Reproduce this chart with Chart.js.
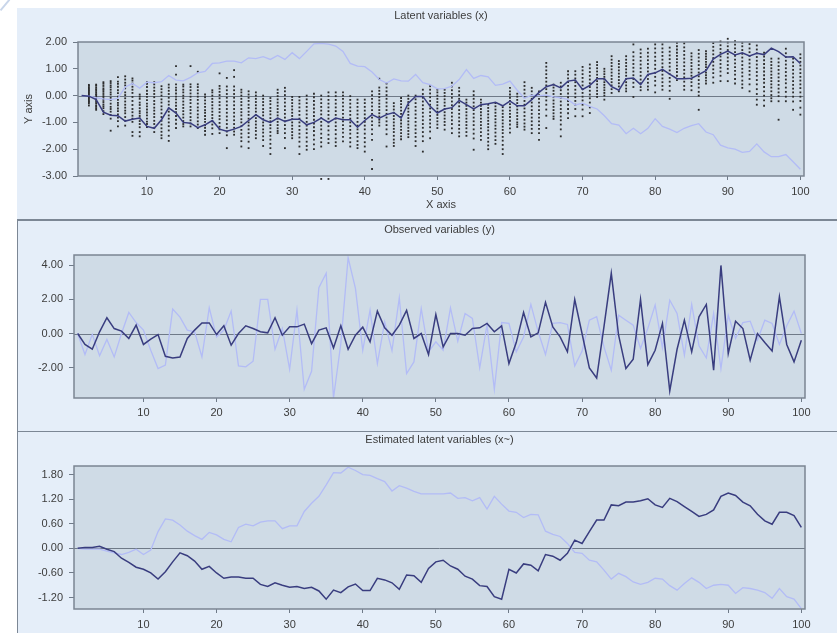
<!DOCTYPE html>
<html>
<head>
<meta charset="utf-8">
<script src="https://cdn.jsdelivr.net/npm/chart.js@4.4.1/dist/chart.umd.min.js"></script>
<style>
  html, body { margin: 0; padding: 0; background: #ffffff; }
  body { width: 837px; height: 633px; position: relative; overflow: hidden; }
  .panel { position: absolute; left: 17px; width: 820px; background: #e5eef9; box-sizing: border-box; }
  #bg1 { top: 8px; height: 211px; }
  #bg2 { top: 219px; height: 212px; border-top: 2px solid #7c8795; border-left: 1px solid #7c8795; }
  #bg3 { top: 431px; height: 202px; border-top: 1px solid #7c8795; border-left: 1px solid #7c8795; }
  #corner { position: absolute; left: -2px; top: 4px; width: 14px; height: 2px; background: #c9d6ea;
            transform: rotate(-50deg); }
  canvas { position: absolute; }
  #c1 { left: 17px; top: 8px; }
  #c2 { left: 17px; top: 221px; }
  #c3 { left: 17px; top: 432px; }
</style>
</head>
<body>
<div id="corner"></div>
<div class="panel" id="bg1"></div>
<div class="panel" id="bg2"></div>
<div class="panel" id="bg3"></div>
<canvas id="c1" width="820" height="211"></canvas>
<canvas id="c2" width="820" height="209"></canvas>
<canvas id="c3" width="820" height="201"></canvas>
<script>
// ---- time steps 1..100 on every panel ----
const X_MIN = 0.5, X_MAX = 100.5;
const xTicks = [10, 20, 30, 40, 50, 60, 70, 80, 90, 100];

// ---- panel 1: latent variables (x) ----
const latentTicks = [2, 1, 0, -1, -2, -3];
const latentDark = [
  0, -0.02, -0.15, -0.62, -0.73, -0.75, -0.95, -0.88, -0.84, -1.15,
  -1.22, -0.9, -0.46, -0.65, -1.0, -1.03, -1.2, -1.09, -0.93, -1.25,
  -1.33, -1.25, -1.15, -0.93, -0.71, -0.9, -1.0, -0.84, -0.96, -0.88,
  -0.88, -1.09, -1.0, -0.84, -1.0, -0.84, -0.9, -0.9, -1.18, -0.93,
  -0.71, -0.84, -0.71, -0.63, -0.84, -0.28, -0.03, -0.03, -0.4, -0.65,
  -0.5, -0.45, -0.18, -0.34, -0.5, -0.34, -0.3, -0.25, -0.38, -0.21,
  -0.38, -0.38, -0.15, 0.12, 0.33, 0.41, 0.29, 0.54, 0.58, 0.23,
  0.38, 0.63, 0.63, 0.33, 0.2, 0.63, 0.66, 0.41, 0.79, 0.85,
  0.98, 0.8, 0.63, 0.63, 0.65, 0.78, 0.93, 1.36, 1.54, 1.66,
  1.52, 1.6, 1.48, 1.58, 1.53, 1.77, 1.64, 1.44, 1.45, 1.2
];
const latentLight = [
  0, -0.02, -0.08, -0.12, -0.15, -0.1, 0.32, 0.45, 0.28, 0.5,
  0.48, 0.52, 0.75, 0.58, 0.55, 0.68, 0.85, 0.9, 1.2, 1.22,
  1.29, 1.29, 1.22, 1.41, 1.38, 1.45, 1.35, 1.5, 1.35, 1.6,
  1.38, 1.65, 1.93, 1.95, 1.92, 1.85, 1.65, 1.2, 1.1, 1.08,
  0.88, 0.6, 0.47, 0.62, 0.55, 0.54, 0.79, 0.48, 0.41, 0.25,
  0.26, 0.35, 0.6, 0.97, 0.64, 0.75, 0.7, 0.38, 0.43, 0.54,
  0.2, -0.1, 0.02, 0.0, 0.02, -0.05, -0.08, -0.15, -0.35, -0.28,
  -0.4, -0.5, -0.75, -1.05, -1.1, -1.42, -1.22, -1.42, -1.22, -0.86,
  -1.15, -1.25, -1.38, -1.22, -1.12, -1.05, -1.36, -1.46, -1.85, -1.95,
  -2.0, -2.12, -2.08, -1.8, -2.1, -2.28, -2.28, -2.2, -2.47, -2.75
];
// particle samples, one column per step starting at step 2
const FIRST_SAMPLE_STEP = 2;
const sampleColumns = [
  [0.40, 0.36, 0.3, 0.26, 0.21, 0.17, 0.12, 0.08, 0.03, -0.01, -0.06, -0.1, -0.15, -0.2, -0.24, -0.29, -0.37],
  [0.41, 0.37, 0.3, 0.24, 0.19, 0.13, 0.06, 0.02, -0.05, -0.1, -0.16, -0.22, -0.28, -0.36, -0.41, -0.47, -0.53],
  [0.5, 0.44, 0.36, 0.27, 0.21, 0.14, 0.06, -0.02, -0.09, -0.16, -0.24, -0.33, -0.4, -0.47, -0.58, -0.69],
  [0.54, 0.47, 0.38, 0.31, 0.22, 0.12, 0.04, -0.08, -0.17, -0.3, -0.42, -0.5, -0.6, -0.72, -0.86, -1.31],
  [0.69, 0.52, 0.44, 0.33, 0.2, 0.09, -0.04, -0.16, -0.27, -0.36, -0.48, -0.58, -0.7, -0.82, -0.95, -1.15],
  [0.72, 0.6, 0.48, 0.38, 0.27, 0.12, 0.02, -0.1, -0.22, -0.34, -0.45, -0.56, -0.66, -0.8, -0.94, -1.12],
  [0.64, 0.56, 0.45, 0.33, 0.22, 0.1, -0.05, -0.2, -0.35, -0.5, -0.62, -0.75, -0.86, -0.98, -1.36, -1.5],
  [0.04, -0.04, -0.12, -0.26, -0.35, -0.47, -0.58, -0.66, -0.76, -0.85, -0.95, -1.06, -1.18, -1.36, -1.52],
  [0.5, 0.44, 0.32, 0.18, 0.06, -0.05, -0.17, -0.3, -0.4, -0.52, -0.63, -0.74, -0.86, -0.97, -1.06, -1.17],
  [0.5, 0.42, 0.3, 0.18, 0.06, -0.06, -0.2, -0.32, -0.45, -0.56, -0.68, -0.8, -0.94, -1.06, -1.2, -1.36],
  [0.35, 0.24, 0.12, 0.0, -0.14, -0.26, -0.4, -0.52, -0.66, -0.8, -0.94, -1.08, -1.22, -1.35, -1.48, -1.59],
  [0.41, 0.3, 0.18, 0.06, -0.08, -0.22, -0.34, -0.48, -0.6, -0.74, -0.86, -1.0, -1.14, -1.3, -1.5, -1.69],
  [1.1, 0.78, 0.42, 0.3, 0.2, 0.08, -0.04, -0.14, -0.26, -0.38, -0.5, -0.62, -0.76, -0.9, -1.05, -1.21],
  [0.41, 0.34, 0.22, 0.12, 0.0, -0.1, -0.22, -0.34, -0.46, -0.58, -0.7, -0.82, -0.95, -1.06, -1.15],
  [1.1, 0.42, 0.32, 0.2, 0.08, -0.04, -0.16, -0.28, -0.42, -0.54, -0.66, -0.8, -0.92, -1.04, -1.15],
  [0.89, 0.42, 0.32, 0.2, 0.08, -0.04, -0.16, -0.3, -0.44, -0.56, -0.7, -0.82, -0.96, -1.08, -1.21],
  [0.04, -0.06, -0.18, -0.3, -0.42, -0.54, -0.64, -0.76, -0.88, -0.98, -1.1, -1.2, -1.32, -1.46],
  [0.2, 0.12, 0.0, -0.12, -0.24, -0.36, -0.48, -0.6, -0.72, -0.84, -0.96, -1.08, -1.22, -1.43],
  [0.83, 0.36, 0.26, 0.14, 0.02, -0.1, -0.24, -0.36, -0.5, -0.62, -0.76, -0.88, -1.02, -1.16, -1.26, -1.4],
  [0.66, 0.34, 0.2, 0.06, -0.08, -0.22, -0.36, -0.5, -0.64, -0.78, -0.92, -1.06, -1.2, -1.34, -1.48, -1.96],
  [0.95, 0.7, 0.34, 0.2, 0.06, -0.08, -0.22, -0.36, -0.5, -0.64, -0.78, -0.92, -1.06, -1.2, -1.34, -1.46],
  [0.22, 0.12, 0.0, -0.12, -0.24, -0.36, -0.5, -0.62, -0.74, -0.88, -1.0, -1.14, -1.28, -1.42, -1.56, -1.7, -1.9],
  [0.16, 0.04, -0.08, -0.2, -0.34, -0.46, -0.6, -0.72, -0.86, -1.0, -1.12, -1.26, -1.4, -1.55, -1.72, -1.96],
  [0.12, 0.0, -0.12, -0.24, -0.36, -0.48, -0.6, -0.72, -0.84, -0.96, -1.08, -1.2, -1.32, -1.46, -1.59],
  [0.0, -0.12, -0.24, -0.36, -0.5, -0.62, -0.74, -0.88, -1.0, -1.12, -1.26, -1.38, -1.52, -1.66, -1.88],
  [-0.09, -0.2, -0.32, -0.46, -0.58, -0.7, -0.84, -0.96, -1.1, -1.22, -1.36, -1.5, -1.64, -1.8, -1.96, -2.18],
  [0.22, 0.1, -0.02, -0.14, -0.26, -0.38, -0.5, -0.62, -0.74, -0.86, -0.98, -1.1, -1.22, -1.32, -1.4],
  [0.29, 0.16, 0.02, -0.12, -0.26, -0.4, -0.54, -0.68, -0.82, -0.96, -1.1, -1.24, -1.4, -1.58, -1.96],
  [-0.05, -0.16, -0.28, -0.4, -0.52, -0.64, -0.76, -0.88, -1.0, -1.12, -1.24, -1.36, -1.48, -1.59],
  [-0.05, -0.18, -0.3, -0.44, -0.58, -0.72, -0.86, -1.0, -1.14, -1.28, -1.42, -1.56, -1.72, -1.9, -2.18],
  [0.0, -0.14, -0.28, -0.42, -0.56, -0.7, -0.84, -0.98, -1.12, -1.26, -1.4, -1.56, -1.72, -1.88, -2.02],
  [0.07, -0.06, -0.2, -0.34, -0.48, -0.62, -0.76, -0.9, -1.04, -1.18, -1.32, -1.48, -1.64, -1.82, -2.0],
  [0.0, -0.14, -0.28, -0.42, -0.56, -0.7, -0.84, -0.98, -1.12, -1.26, -1.42, -1.58, -1.74, -1.9, -3.11],
  [0.12, -0.02, -0.16, -0.3, -0.44, -0.58, -0.72, -0.86, -1.0, -1.14, -1.3, -1.46, -1.62, -1.77, -3.11],
  [0.12, -0.02, -0.16, -0.3, -0.44, -0.58, -0.72, -0.86, -1.0, -1.14, -1.28, -1.44, -1.6, -1.74, -1.88],
  [0.12, 0.0, -0.12, -0.26, -0.4, -0.54, -0.68, -0.82, -0.96, -1.1, -1.24, -1.38, -1.54, -1.71],
  [-0.02, -0.16, -0.3, -0.44, -0.58, -0.72, -0.86, -1.0, -1.14, -1.28, -1.42, -1.58, -1.74, -1.9],
  [-0.15, -0.28, -0.42, -0.56, -0.7, -0.84, -0.98, -1.12, -1.26, -1.4, -1.54, -1.7, -1.84, -1.96],
  [-0.15, -0.28, -0.42, -0.56, -0.7, -0.84, -0.98, -1.12, -1.26, -1.42, -1.58, -1.74, -1.9, -2.09],
  [0.16, 0.02, -0.12, -0.26, -0.4, -0.54, -0.68, -0.82, -0.96, -1.1, -1.26, -1.44, -1.65, -2.4, -2.74],
  [0.63, 0.3, 0.18, 0.06, -0.06, -0.18, -0.3, -0.42, -0.54, -0.66, -0.78, -0.9, -1.0, -1.12],
  [0.45, 0.3, 0.16, 0.02, -0.12, -0.26, -0.4, -0.54, -0.68, -0.82, -0.96, -1.1, -1.26, -1.44, -1.9],
  [-0.28, -0.4, -0.52, -0.64, -0.76, -0.88, -1.0, -1.12, -1.24, -1.36, -1.5, -1.64, -1.76, -1.88],
  [-0.09, -0.2, -0.32, -0.44, -0.56, -0.68, -0.8, -0.92, -1.04, -1.16, -1.28, -1.4, -1.52, -1.63],
  [0.0, -0.12, -0.24, -0.36, -0.48, -0.6, -0.72, -0.84, -0.96, -1.08, -1.2, -1.32, -1.44, -1.55],
  [0.0, -0.14, -0.28, -0.42, -0.56, -0.7, -0.84, -0.98, -1.12, -1.26, -1.4, -1.54, -1.7, -1.88],
  [0.22, 0.06, -0.08, -0.22, -0.36, -0.5, -0.64, -0.78, -0.92, -1.06, -1.2, -1.36, -1.52, -1.7, -2.09],
  [0.35, 0.22, 0.08, -0.06, -0.2, -0.34, -0.48, -0.62, -0.76, -0.9, -1.04, -1.18, -1.34, -1.59],
  [0.22, 0.12, 0.0, -0.12, -0.24, -0.36, -0.48, -0.6, -0.72, -0.84, -0.96, -1.08, -1.21],
  [0.22, 0.1, -0.02, -0.14, -0.26, -0.38, -0.5, -0.62, -0.74, -0.86, -0.98, -1.1, -1.27],
  [0.48, 0.34, 0.2, 0.06, -0.08, -0.22, -0.36, -0.5, -0.64, -0.78, -0.92, -1.06, -1.22, -1.4],
  [0.29, 0.16, 0.02, -0.12, -0.26, -0.4, -0.54, -0.68, -0.82, -0.96, -1.1, -1.24, -1.38, -1.52],
  [-0.15, -0.26, -0.38, -0.5, -0.62, -0.74, -0.86, -0.98, -1.1, -1.22, -1.36, -1.5],
  [0.16, 0.02, -0.12, -0.26, -0.4, -0.54, -0.68, -0.82, -0.96, -1.1, -1.26, -1.42, -1.6, -2.02],
  [-0.15, -0.26, -0.38, -0.5, -0.62, -0.74, -0.86, -0.98, -1.1, -1.22, -1.36, -1.5, -1.65],
  [-0.34, -0.46, -0.58, -0.7, -0.82, -0.94, -1.06, -1.18, -1.3, -1.44, -1.58, -1.72, -1.86, -2.0],
  [-0.28, -0.4, -0.52, -0.64, -0.76, -0.88, -1.0, -1.12, -1.24, -1.38, -1.52, -1.66, -1.8],
  [-0.43, -0.56, -0.68, -0.8, -0.92, -1.04, -1.16, -1.28, -1.4, -1.54, -1.68, -1.84, -2.0, -2.18],
  [0.29, 0.16, 0.04, -0.08, -0.2, -0.32, -0.44, -0.56, -0.68, -0.8, -0.94, -1.08, -1.22, -1.38],
  [0.07, -0.04, -0.16, -0.28, -0.4, -0.52, -0.64, -0.76, -0.88, -1.0, -1.08, -1.17],
  [0.5, 0.36, 0.22, 0.08, -0.06, -0.2, -0.34, -0.48, -0.62, -0.76, -0.9, -1.04, -1.16, -1.27],
  [0.29, 0.16, 0.02, -0.12, -0.26, -0.4, -0.54, -0.68, -0.82, -0.96, -1.1, -1.24, -1.4],
  [0.16, 0.02, -0.12, -0.26, -0.4, -0.54, -0.68, -0.82, -0.96, -1.1, -1.24, -1.4, -1.65],
  [1.22, 1.08, 0.94, 0.8, 0.66, 0.52, 0.38, 0.24, 0.1, -0.04, -0.18, -0.34, -0.52, -0.75, -1.21],
  [0.41, 0.3, 0.18, 0.06, -0.06, -0.18, -0.3, -0.42, -0.54, -0.66, -0.78, -0.87],
  [0.48, 0.34, 0.2, 0.06, -0.08, -0.22, -0.36, -0.5, -0.64, -0.78, -0.92, -1.08, -1.26, -1.52],
  [0.91, 0.78, 0.64, 0.5, 0.36, 0.22, 0.08, -0.06, -0.2, -0.34, -0.5, -0.66, -0.84],
  [0.91, 0.78, 0.64, 0.5, 0.36, 0.22, 0.08, -0.06, -0.2, -0.34, -0.5, -0.77],
  [1.07, 0.94, 0.8, 0.66, 0.52, 0.38, 0.24, 0.1, -0.04, -0.18, -0.34, -0.52, -0.77],
  [1.16, 1.02, 0.88, 0.74, 0.6, 0.46, 0.32, 0.18, 0.04, -0.1, -0.26, -0.44, -0.65],
  [1.25, 1.14, 1.02, 0.9, 0.78, 0.66, 0.54, 0.42, 0.3, 0.18, 0.06, -0.05],
  [1.0, 0.9, 0.8, 0.7, 0.6, 0.5, 0.4, 0.3, 0.2, 0.1, 0.0, -0.15],
  [1.47, 1.34, 1.22, 1.1, 0.98, 0.86, 0.74, 0.62, 0.5, 0.38, 0.24, 0.1],
  [1.29, 1.18, 1.06, 0.94, 0.82, 0.7, 0.58, 0.46, 0.34, 0.16],
  [1.47, 1.34, 1.22, 1.1, 0.98, 0.86, 0.74, 0.62, 0.5, 0.38, 0.26, 0.16],
  [1.91, 1.62, 1.46, 1.32, 1.18, 1.04, 0.9, 0.76, 0.62, 0.48, 0.32, -0.05],
  [1.72, 1.58, 1.44, 1.3, 1.16, 1.02, 0.88, 0.74, 0.6, 0.46, 0.32, 0.2],
  [1.75, 1.6, 1.46, 1.32, 1.18, 1.04, 0.9, 0.76, 0.62, 0.48, 0.34, 0.22],
  [1.91, 1.76, 1.6, 1.45, 1.3, 1.15, 1.0, 0.85, 0.7, 0.55, 0.38, 0.12],
  [1.91, 1.76, 1.62, 1.48, 1.34, 1.2, 1.06, 0.92, 0.78, 0.64, 0.5, 0.36, 0.22],
  [1.79, 1.64, 1.5, 1.36, 1.22, 1.08, 0.94, 0.8, 0.66, 0.52, 0.36, 0.18, -0.12],
  [1.97, 1.84, 1.72, 1.6, 1.48, 1.36, 1.24, 1.12, 1.0, 0.88, 0.74, 0.58],
  [1.95, 1.8, 1.66, 1.52, 1.38, 1.24, 1.1, 0.96, 0.82, 0.68, 0.52, 0.36, 0.22],
  [1.58, 1.46, 1.34, 1.22, 1.1, 0.98, 0.86, 0.74, 0.62, 0.5, 0.36, 0.2],
  [1.7, 1.56, 1.42, 1.28, 1.14, 1.0, 0.86, 0.72, 0.58, 0.44, 0.3, 0.14, 0.0, -0.53],
  [1.66, 1.56, 1.46, 1.36, 1.26, 1.16, 1.06, 0.96, 0.86, 0.76, 0.66, 0.56, 0.45],
  [2.33, 2.2, 1.96, 1.82, 1.68, 1.54, 1.4, 1.26, 1.12, 0.98, 0.84, 0.68, 0.48],
  [2.38, 2.2, 2.02, 1.88, 1.74, 1.6, 1.46, 1.32, 1.18, 1.04, 0.9, 0.74, 0.54],
  [2.75, 2.3, 2.12, 1.98, 1.84, 1.7, 1.56, 1.42, 1.28, 1.14, 1.0, 0.84, 0.54],
  [2.03, 1.9, 1.76, 1.62, 1.48, 1.34, 1.2, 1.06, 0.92, 0.78, 0.62, 0.45],
  [1.97, 1.84, 1.7, 1.56, 1.42, 1.28, 1.14, 1.0, 0.86, 0.72, 0.56, 0.42, 0.29],
  [2.29, 1.92, 1.76, 1.62, 1.48, 1.34, 1.2, 1.06, 0.92, 0.78, 0.62, 0.42, 0.16],
  [1.87, 1.72, 1.58, 1.44, 1.3, 1.16, 1.02, 0.88, 0.74, 0.58, 0.42, 0.24, 0.06, -0.15, -0.34],
  [1.6, 1.46, 1.32, 1.18, 1.04, 0.9, 0.76, 0.62, 0.48, 0.32, 0.16, 0.0, -0.18, -0.38],
  [1.38, 1.26, 1.14, 1.02, 0.9, 0.78, 0.66, 0.54, 0.42, 0.3, 0.16, 0.02, -0.1, -0.21],
  [1.38, 1.24, 1.1, 0.96, 0.82, 0.68, 0.54, 0.4, 0.26, 0.12, -0.02, -0.21, -0.9],
  [1.75, 1.58, 1.44, 1.3, 1.16, 1.02, 0.88, 0.74, 0.6, 0.46, 0.3, 0.14, -0.04, -0.21],
  [1.38, 1.24, 1.1, 0.96, 0.82, 0.68, 0.54, 0.4, 0.26, 0.12, -0.04, -0.22, -0.53],
  [1.54, 1.4, 1.26, 1.12, 0.98, 0.84, 0.7, 0.56, 0.42, 0.28, 0.12, -0.04, -0.2, -0.45, -0.71]
];

// ---- panel 2: observed variables (y) ----
const observedTicks = [4, 2, 0, -2];
const observedDark = [
  0, -0.64, -0.92, 0.1, 0.92, 0.29, 0.14, -0.29, 0.49, -0.64,
  -0.33, -0.06, -1.33, -1.43, -1.37, -0.29, 0.2, 0.62, 0.62, -0.06,
  0.45, -0.68, 0.0, 0.45, 0.29, 0.1, 0.04, 0.92, -0.1, 0.39,
  0.39, 0.55, -0.59, 0.2, 0.33, -0.84, 0.45, -0.92, -0.1, 0.37,
  -0.49, 1.31, 0.33, -0.1, 0.49, 1.35, -0.29, 0.0, -1.23, 1.11,
  -0.78, 0.0, 0.0, -0.1, 0.29, 0.33, 0.59, 0.1, 0.45, -1.76,
  -0.53, 1.23, -0.2, 0.04, 1.82, 0.39, -0.2, -1.07, 1.99, 0.0,
  -2.01, -2.6, 0.4, 3.52, -0.1, -2.05, -1.5, 1.99, -1.82, -0.98,
  0.59, -3.36, -0.92, 0.78, -1.07, 0.98, 1.7, -2.15, 3.98, -1.17,
  0.72, 0.29, -1.56, 0.0, -0.53, -1.02, 2.15, -0.64, -1.66, -0.39
];
const observedLight = [
  0, -1.23, -0.05, -1.3, -0.35, -1.37, 0.0, 1.23, 0.64, 0.2,
  -0.98, -2.05, -1.85, 1.43, 0.96, 0.2, 0.1, -1.37, 1.5, -0.2,
  0.2, 1.31, -1.89, -1.95, -1.62, 2.0, 2.0, -0.92, 0.29, -2.09,
  1.37, -3.26, -2.21, 2.68, 3.52, -3.77, -0.59, 4.43, 2.64, -0.98,
  1.37, -1.76, 0.68, -1.0, 2.09, -2.34, -1.66, 1.46, -1.07, -0.49,
  -0.98, 1.5, -0.45, 1.17, 0.88, -2.01, 0.5, -3.26, 0.64, 0.59,
  -1.07, -0.2, 1.7, 0.1, -1.23, 0.59, 0.64, 0.53, -1.89, -1.04,
  0.78, 0.98, -0.78, -2.15, 1.07, 0.78, 0.49, -0.88, 0.3, 1.66,
  -0.84, 1.95, 1.17, -1.27, 1.7, -0.72, -1.43, 1.17, -2.05, 1.07,
  -0.29, 0.64, 0.72, -0.39, 0.78, 0.59, -0.64, 0.45, 1.31, 0.0
];

// ---- panel 3: estimated latent variables (x~) ----
const estimatedTicks = [1.8, 1.2, 0.6, 0, -0.6, -1.2];
const estimatedDark = [
  0, 0.02, 0.02, 0.05, -0.02, -0.08, -0.24, -0.34, -0.46, -0.51,
  -0.6, -0.75, -0.57, -0.33, -0.11, -0.18, -0.31, -0.51, -0.44, -0.6,
  -0.73, -0.7, -0.7, -0.73, -0.73, -0.88, -0.93, -0.84, -0.9, -0.95,
  -0.93, -0.98, -0.95, -1.04, -1.24, -1.02, -1.08, -0.94, -0.87, -1.03,
  -1.03, -0.73, -0.77, -0.84, -1.0, -0.65, -0.67, -0.83, -0.49, -0.33,
  -0.29, -0.43, -0.51, -0.68, -0.75, -0.91, -0.93, -1.18, -1.24, -0.51,
  -0.6, -0.38, -0.41, -0.55, -0.15, -0.19, -0.29, -0.12, 0.2, 0.12,
  0.41, 0.69, 0.69, 1.06, 1.04, 1.13, 1.13, 1.16, 1.21, 1.06,
  1.0, 1.22, 1.14, 1.02, 0.9, 0.78, 0.83, 0.94, 1.27, 1.35,
  1.29, 1.13, 1.04, 0.83, 0.67, 0.59, 0.88, 0.88, 0.8, 0.51
];
const estimatedLight = [
  0, -0.02, -0.02, -0.02, -0.07, -0.11, -0.15, -0.1, -0.02, -0.15,
  -0.04, 0.41, 0.72, 0.69, 0.57, 0.42, 0.31, 0.22, 0.39, 0.33,
  0.22, 0.16, 0.51, 0.59, 0.55, 0.64, 0.67, 0.67, 0.48, 0.55,
  0.55, 0.9, 1.1, 1.27, 1.55, 1.85, 1.84, 1.98, 1.9, 1.8,
  1.78, 1.7, 1.63, 1.4, 1.53, 1.47, 1.39, 1.33, 1.33, 1.33,
  1.33, 1.35, 1.22, 1.24, 1.16, 1.24, 0.96, 1.27, 1.08, 0.91,
  0.88, 0.75, 0.83, 0.82, 0.42, 0.34, 0.29, 0.12, -0.1, -0.12,
  -0.29, -0.33, -0.53, -0.75, -0.61, -0.69, -0.82, -0.88, -0.83, -0.73,
  -0.75, -0.91, -1.02, -0.86, -0.72, -0.83, -0.98, -0.9, -0.88, -0.9,
  -1.1, -0.96, -0.98, -1.02, -1.08, -1.22, -0.98, -1.18, -1.24, -1.47
];

// ---- styling ----
const FONT_FAMILY = '"Liberation Sans", Arial, sans-serif';
const TEXT_COLOR = '#3c3c3c';
const AXIS_COLOR = '#6f7a88';
const PLOT_FILL = '#cfdbe6';
const DARK_LINE = '#393d7f';
const LIGHT_LINE = '#b3bcf6';
const DOT_COLOR = '#2c2c2c';

const series = arr => arr.map((v, i) => ({ x: i + 1, y: v }));

function samplePoints(columns) {
  const pts = [];
  columns.forEach((col, i) => col.forEach(v => pts.push({ x: i + FIRST_SAMPLE_STEP, y: v })));
  return pts;
}

// plot-area fill, zero line, frame and the panel / axis captions
const framePlugin = {
  id: 'frame',
  beforeDatasetsDraw(chart) {
    const { ctx, chartArea: a } = chart;
    ctx.save();
    ctx.fillStyle = PLOT_FILL;
    ctx.fillRect(a.left, a.top, a.right - a.left, a.bottom - a.top);
    const y0 = Math.round(chart.scales.y.getPixelForValue(0)) + 0.5;
    ctx.strokeStyle = AXIS_COLOR;
    ctx.lineWidth = 1;
    ctx.beginPath();
    ctx.moveTo(a.left, y0);
    ctx.lineTo(a.right, y0);
    ctx.stroke();
    ctx.restore();
  },
  afterDatasetsDraw(chart) {
    const { ctx, chartArea: a } = chart;
    ctx.save();
    ctx.strokeStyle = '#7b8592';
    ctx.lineWidth = 1.5;
    ctx.strokeRect(a.left, a.top, a.right - a.left, a.bottom - a.top);
    ctx.restore();
  },
  afterDraw(chart, args, opts) {
    const { ctx, chartArea: a } = chart;
    const cx = (a.left + a.right) / 2;
    ctx.save();
    ctx.fillStyle = TEXT_COLOR;
    ctx.font = '11px ' + FONT_FAMILY;
    ctx.textAlign = 'center';
    ctx.textBaseline = 'middle';
    if (opts.title) ctx.fillText(opts.title, cx, opts.titleY);
    if (opts.xTitle) ctx.fillText(opts.xTitle, cx, opts.xTitleY);
    if (opts.yTitle) {
      ctx.translate(opts.yTitleX, (a.top + a.bottom) / 2);
      ctx.rotate(-Math.PI / 2);
      ctx.fillText(opts.yTitle, 0, 0);
    }
    ctx.restore();
  }
};

function xScale(height, pad) {
  return {
    type: 'linear', min: X_MIN, max: X_MAX,
    afterBuildTicks: ax => { ax.ticks = xTicks.map(v => ({ value: v })); },
    afterFit: ax => { ax.height = height; },
    grid: { drawOnChartArea: false, drawTicks: true, tickLength: 4, color: AXIS_COLOR },
    border: { display: false },
    ticks: { color: TEXT_COLOR, font: { family: FONT_FAMILY, size: 11 }, padding: pad, maxRotation: 0, autoSkip: false }
  };
}

function yScale(min, max, ticks, width) {
  return {
    type: 'linear', min: min, max: max,
    afterBuildTicks: ax => { ax.ticks = ticks.map(v => ({ value: v })); },
    afterFit: ax => { ax.width = width; },
    grid: { drawOnChartArea: false, drawTicks: true, tickLength: 5, color: AXIS_COLOR },
    border: { display: false },
    ticks: { color: TEXT_COLOR, font: { family: FONT_FAMILY, size: 11 }, padding: 6, autoSkip: false,
             callback: v => v.toFixed(2) }
  };
}

function lineSet(values, color, width) {
  return { type: 'line', data: series(values), borderColor: color, borderWidth: width,
           pointRadius: 0, tension: 0, fill: false };
}

function makeChart(id, datasets, x, y, padRight, frameOpts) {
  return new Chart(document.getElementById(id), {
    type: 'line',
    data: { datasets: datasets },
    options: {
      responsive: false, animation: false, events: [],
      layout: { padding: { left: 0, top: 34, right: padRight, bottom: 0 } },
      scales: { x: x, y: y },
      plugins: { legend: { display: false }, tooltip: { enabled: false }, frame: frameOpts }
    },
    plugins: [framePlugin]
  });
}

makeChart('c1', [
  lineSet(latentDark, DARK_LINE, 1.5),
  lineSet(latentLight, LIGHT_LINE, 1.3),
  { type: 'scatter', data: samplePoints(sampleColumns), showLine: false, clip: false,
    pointStyle: 'rect', pointRadius: 1.3, pointBorderWidth: 0, backgroundColor: DOT_COLOR, borderWidth: 0 }
], xScale(43, 5), yScale(-3, 2, latentTicks, 61), 33,
   { title: 'Latent variables (x)', titleY: 8, xTitle: 'X axis', xTitleY: 197, yTitle: 'Y axis', yTitleX: 12 });

makeChart('c2', [
  lineSet(observedDark, DARK_LINE, 1.5),
  lineSet(observedLight, LIGHT_LINE, 1.3)
], xScale(32, 4.5), yScale(-3.77, 4.59, observedTicks, 57), 32,
   { title: 'Observed variables (y)', titleY: 9 });

makeChart('c3', [
  lineSet(estimatedDark, DARK_LINE, 1.5),
  lineSet(estimatedLight, LIGHT_LINE, 1.3)
], xScale(24, 5), yScale(-1.48, 2.01, estimatedTicks, 57), 32,
   { title: 'Estimated latent variables (x~)', titleY: 8 });
</script>
</body>
</html>
